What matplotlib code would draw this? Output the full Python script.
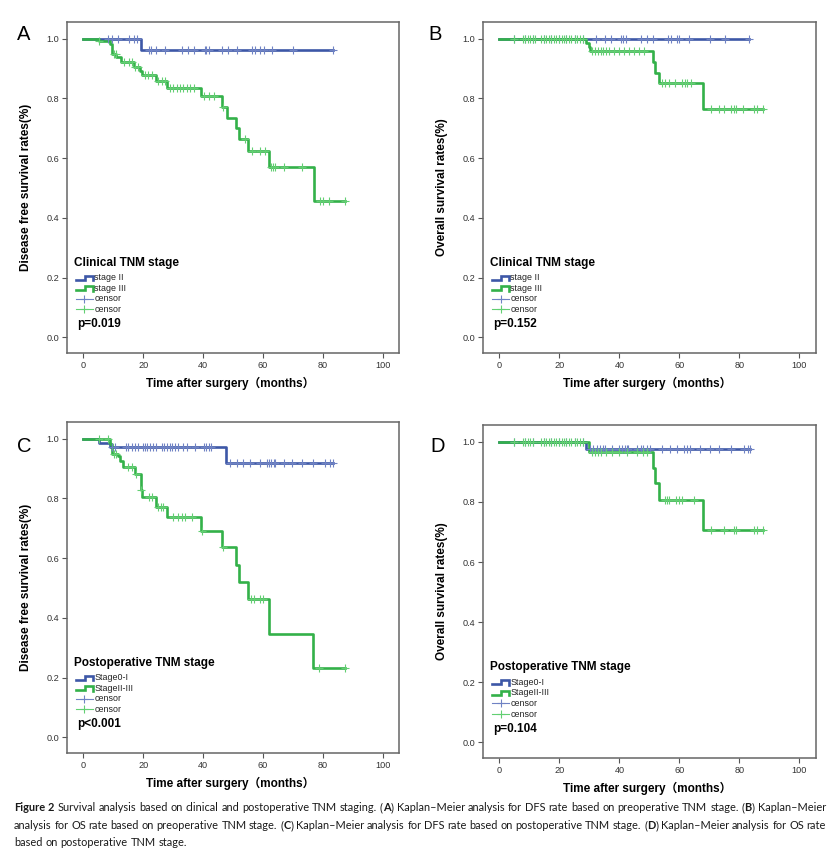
import matplotlib
matplotlib.use("Agg")
import matplotlib.pyplot as plt
import numpy as np
from matplotlib.ticker import FormatStrFormatter

W, H = 840, 861

# ---- values ----
# A: DFS, clinical TNM stage
a_ii_times = [0, 19.1]
a_ii_surv = [1.0, 0.961]
a_ii_end = 83.3
a_ii_cens = [8.3, 9.4, 11.4, 15.2, 16.9, 18.0, 22.0, 22.7, 24.1, 27.4, 33.1, 35.0,
             37.0, 40.6, 41.1, 42.0, 46.2, 48.4, 51.2, 56.5, 57.4, 59.1, 60.2,
             63.0, 70.0, 83.3]
a_iii_times = [0, 5.1, 9.0, 9.7, 11.0, 12.5, 16.8, 18.8, 19.7, 24.1, 28.1, 39.3,
               46.2, 48.1, 51.1, 51.9, 54.9, 62.2, 77.2]
a_iii_surv = [1.0, 0.992, 0.983, 0.948, 0.938, 0.922, 0.907, 0.893, 0.877, 0.858,
              0.836, 0.807, 0.772, 0.736, 0.700, 0.663, 0.623, 0.571, 0.458]
a_iii_end = 87.3
a_iii_cens = [5.1, 10.2, 10.8, 13.5, 15.2, 16.1, 17.3, 18.2, 20.5, 21.7, 23.0, 25.0,
              26.2, 27.3, 29.0, 30.0, 31.2, 32.3, 33.4, 34.5, 35.7, 36.8, 40.3,
              42.0, 43.7, 46.5, 54.1, 56.3, 59.1, 60.8, 62.7, 63.5, 64.1, 66.9,
              73.0, 79.0, 80.0, 82.0, 87.3]

# B: OS, clinical TNM stage
b_ii_times = [0]
b_ii_surv = [1.0]
b_ii_end = 83.3
b_ii_cens = [5.0, 8.6, 11.2, 14.9, 17.3, 19.9, 22.3, 25.1, 27.7, 32.2, 35.2, 37.1,
             40.5, 41.3, 42.1, 47.3, 49.2, 51.1, 56.2, 57.2, 59.2, 60.0, 63.1,
             70.2, 75.1, 83.3]
b_iii_times = [0, 29.0, 29.7, 30.3, 51.2, 52.0, 53.1, 67.9]
b_iii_surv = [1.0, 0.986, 0.973, 0.959, 0.922, 0.886, 0.851, 0.764]
b_iii_end = 87.8
b_iii_cens = [5.0, 7.8, 8.6, 9.5, 10.3, 11.2, 12.0, 14.0, 14.9, 15.6, 16.5, 17.3,
              18.2, 19.0, 19.9, 20.7, 21.5, 22.3, 23.2, 24.0, 25.1, 26.0, 26.8,
              27.7, 30.9, 32.0, 32.8, 33.7, 34.6, 35.4, 36.5, 38.2, 39.8, 41.5,
              43.2, 44.8, 46.5, 48.2, 54.2, 55.3, 56.4, 58.6, 60.9, 61.7, 62.6,
              63.7, 70.4, 73.2, 74.8, 77.3, 78.2, 78.9, 81.2, 84.8, 86.0, 87.8]

# C: DFS, postoperative TNM stage
c_01_times = [0, 5.1, 9.0, 47.8]
c_01_surv = [1.0, 0.987, 0.973, 0.918]
c_01_end = 83.4
c_01_cens = [9.5, 10.5, 14.2, 14.9, 16.1, 17.2, 18.1, 20.0, 20.5, 21.3, 22.2, 23.3,
             24.4, 26.1, 27.0, 27.8, 28.9, 29.7, 30.6, 31.7, 33.4, 34.5, 37.3,
             40.4, 41.1, 42.0, 42.8, 49.1, 51.3, 53.5, 55.7, 59.1, 61.3, 62.1,
             62.8, 63.6, 64.1, 66.9, 69.7, 73.0, 76.9, 80.8, 82.4, 83.4]
c_23_times = [0, 9.0, 9.7, 11.4, 12.2, 13.3, 17.2, 19.1, 19.7, 24.1, 28.1, 39.3,
              46.2, 51.1, 52.1, 55.0, 62.1, 76.9]
c_23_surv = [1.0, 0.983, 0.950, 0.941, 0.924, 0.905, 0.881, 0.827, 0.804, 0.773,
             0.739, 0.690, 0.636, 0.578, 0.521, 0.464, 0.348, 0.232]
c_23_end = 87.3
c_23_cens = [5.1, 8.1, 10.3, 11.0, 14.9, 16.1, 17.5, 19.4, 21.8, 23.0, 25.0, 25.8,
             26.7, 30.0, 31.7, 32.8, 33.9, 36.2, 39.5, 46.5, 56.0, 57.1, 58.9,
             60.0, 78.9, 87.3]

# D: OS, postoperative TNM stage
d_01_times = [0, 29.0]
d_01_surv = [1.0, 0.976]
d_01_end = 83.6
d_01_cens = [5.0, 8.6, 11.2, 14.9, 17.3, 19.9, 22.3, 25.1, 27.7, 30.2, 31.3, 32.4,
             33.5, 34.6, 35.2, 37.4, 39.7, 40.8, 41.9, 42.5, 43.0, 45.8, 47.2,
             48.0, 49.2, 50.3, 54.2, 56.7, 59.2, 61.5, 62.6, 63.5, 66.8, 70.2,
             73.2, 77.3, 81.6, 82.7, 83.6]
d_23_times = [0, 29.9, 51.1, 52.0, 53.1, 67.9]
d_23_surv = [1.0, 0.966, 0.914, 0.862, 0.806, 0.706]
d_23_end = 87.8
d_23_cens = [5.0, 7.8, 8.6, 9.5, 10.3, 11.2, 14.0, 14.9, 15.6, 16.5, 17.3, 18.2,
             19.0, 19.9, 20.7, 21.5, 22.3, 23.2, 24.0, 25.1, 26.0, 26.8, 27.9,
             30.9, 32.0, 32.8, 33.7, 35.4, 37.6, 39.8, 42.6, 45.9, 47.9, 49.3,
             55.1, 55.9, 56.6, 58.7, 59.8, 60.9, 65.0, 70.4, 74.8, 78.2, 78.9,
             84.8, 86.0, 87.8]

clinical_labels = ["stage II", "stage III"]
postop_labels = ["Stage0-I", "StageII-III"]
p_values = ["p=0.019", "p=0.152", "p<0.001", "p=0.104"]
panel_letters = ["A", "B", "C", "D"]
ylabels = ["Disease free survival rates(%)", "Overall survival rates(%)",
           "Disease free survival rates(%)", "Overall survival rates(%)"]
xlabel = "Time after surgery\uff08months\uff09"

BLUE, GREEN = "#3d57a7", "#33b149"
BLUE_C, GREEN_C = "#6f82c4", "#62cf72"
FONT = ["Liberation Sans", "Noto Sans CJK SC", "DejaVu Sans"]
CAP_FONT = "Lato"

cap_lines = [
    "**Figure 2** Survival analysis based on clinical and postoperative TNM staging. "
    "(**A**) Kaplan\u2013Meier analysis for DFS rate based on preoperative TNM stage. "
    "(**B**) Kaplan\u2013Meier",
    "analysis for OS rate based on preoperative TNM stage. (**C**) Kaplan\u2013Meier "
    "analysis for DFS rate based on postoperative TNM stage. (**D**) Kaplan\u2013Meier "
    "analysis for OS rate",
    "based on postoperative TNM stage.",
]


def km_curve(ax, times, surv, end, cens, color, ccolor):
    t = np.append(times, end)
    s = np.append(surv, surv[-1])
    ax.step(t, s, where="post", color=color, lw=1.9, zorder=3)
    idx = np.searchsorted(times, cens, side="right") - 1
    ax.plot(cens, np.asarray(surv)[idx], ls="none", marker="+", ms=5.5,
            mew=0.8, color=ccolor, zorder=4)


def km_legend(ax, title, labels, pval):
    ax.text(-3.1, 0.25, title, fontsize=8.5, weight="bold", family=FONT,
            va="center", ha="left")
    ys = [0.200, 0.165, 0.130, 0.094]
    for y, col, lab in zip(ys[:2], [BLUE, GREEN], labels):
        lo, hi = y - 0.007, y + 0.006
        ax.plot([-2.4, 0.6, 0.6, 3.1, 3.1], [lo, lo, hi, hi, lo - 0.002],
                color=col, lw=1.9, solid_joinstyle="miter")
        ax.text(3.6, y, lab, fontsize=6.4, family=FONT, va="center", color="#222222")
    for y, col in zip(ys[2:], [BLUE_C, GREEN_C]):
        ax.plot([-2.4, 3.1], [y, y], color=col, lw=0.8)
        ax.plot([0.35], [y], marker="+", ms=6, mew=0.8, color=col)
        ax.text(3.6, y, "censor", fontsize=6.4, family=FONT, va="center",
                color="#222222")
    ax.text(-2.0, 0.046, pval, fontsize=8.5, weight="bold", family=FONT,
            va="center", ha="left")


def px_axes(fig, left, top, right, bottom):
    return fig.add_axes([left / W, 1 - bottom / H, (right - left) / W,
                         (bottom - top) / H])


def split_runs(line):
    bold = False
    words = []
    for w in line.split(" "):
        runs = []
        for i, part in enumerate(w.split("**")):
            if i > 0:
                bold = not bold
            if part:
                runs.append((part, bold))
        words.append(runs)
    return words


def text_width(fig, txt, bold, size):
    t = fig.text(0, 0, txt, fontsize=size, family=CAP_FONT,
                 weight="bold" if bold else "normal")
    wd = t.get_window_extent(fig.canvas.get_renderer()).width
    t.remove()
    return wd


def natural_width(fig, line, size):
    words = split_runs(line)
    total = sum(text_width(fig, txt, b, size) for runs in words for txt, b in runs)
    space = text_width(fig, "a a", False, size) - text_width(fig, "aa", False, size)
    return total + space * (len(words) - 1)


def caption_line(fig, ypx, line, size, justify=True, x0=14, x1=826):
    words = split_runs(line)
    widths = [[text_width(fig, txt, b, size) for txt, b in runs] for runs in words]
    total = sum(sum(w) for w in widths)
    if justify:
        gap = (x1 - x0 - total) / (len(words) - 1)
    else:
        gap = text_width(fig, "a a", False, size) - text_width(fig, "aa", False, size)
    x = x0
    for runs, ws in zip(words, widths):
        for (txt, b), wd in zip(runs, ws):
            fig.text(x / W, 1 - ypx / H, txt, fontsize=size, family=CAP_FONT,
                     weight="bold" if b else "normal", va="baseline",
                     ha="left", color="#1a1a1a")
            x += wd
        x += gap


fig = plt.figure(figsize=(W / 100, H / 100), dpi=100)
fig.patch.set_facecolor("white")

boxes = [(67, 22, 399, 353), (483, 22, 816, 353),
         (67, 422, 399, 753), (483, 425, 816, 758)]
curves = [
    [(a_ii_times, a_ii_surv, a_ii_end, a_ii_cens),
     (a_iii_times, a_iii_surv, a_iii_end, a_iii_cens)],
    [(b_ii_times, b_ii_surv, b_ii_end, b_ii_cens),
     (b_iii_times, b_iii_surv, b_iii_end, b_iii_cens)],
    [(c_01_times, c_01_surv, c_01_end, c_01_cens),
     (c_23_times, c_23_surv, c_23_end, c_23_cens)],
    [(d_01_times, d_01_surv, d_01_end, d_01_cens),
     (d_23_times, d_23_surv, d_23_end, d_23_cens)],
]
letter_pos = [(16.7, 40), (428, 40), (16.7, 452), (430, 452)]

for i, box in enumerate(boxes):
    ax = px_axes(fig, *box)
    (t1, s1, e1, c1), (t2, s2, e2, c2) = curves[i]
    km_curve(ax, t1, s1, e1, c1, BLUE, BLUE_C)
    km_curve(ax, t2, s2, e2, c2, GREEN, GREEN_C)

    ax.set_xlim(-5.5, 105.5)
    ax.set_ylim(-0.052, 1.056)
    ax.set_xticks(np.arange(0, 101, 20))
    ax.set_yticks(np.arange(0, 1.01, 0.2))
    ax.yaxis.set_major_formatter(FormatStrFormatter("%.1f"))
    ax.tick_params(direction="out", length=3.6, width=0.8, color="#555555",
                   labelsize=6.6, labelcolor="#333333", pad=2)
    for lab in ax.get_xticklabels() + ax.get_yticklabels():
        lab.set_family(FONT)
    for sp in ax.spines.values():
        sp.set_color("#666666")
        sp.set_linewidth(1.1)

    ax.set_ylabel(ylabels[i], fontsize=8.5, weight="bold", family=FONT)
    ax.yaxis.set_label_coords(-0.106, 0.5)
    ax.set_xlabel(xlabel, fontsize=8.5, weight="bold", family=FONT)
    ax.xaxis.set_label_coords(0.493, -0.072)

    title = "Clinical TNM stage" if i < 2 else "Postoperative TNM stage"
    labels = clinical_labels if i < 2 else postop_labels
    km_legend(ax, title, labels, p_values[i])

    lx, ly = letter_pos[i]
    fig.text(lx / W, 1 - ly / H, panel_letters[i], fontsize=14.5,
             family=FONT, va="baseline", ha="left")

# pick the caption size so that the first line just fills the text width
cap_size = 10 * 806 / natural_width(fig, cap_lines[0], 10)
caption_line(fig, 811, cap_lines[0], cap_size)
caption_line(fig, 829, cap_lines[1], cap_size)
caption_line(fig, 846, cap_lines[2], cap_size, justify=False)

fig.savefig("out.png", dpi=100)
